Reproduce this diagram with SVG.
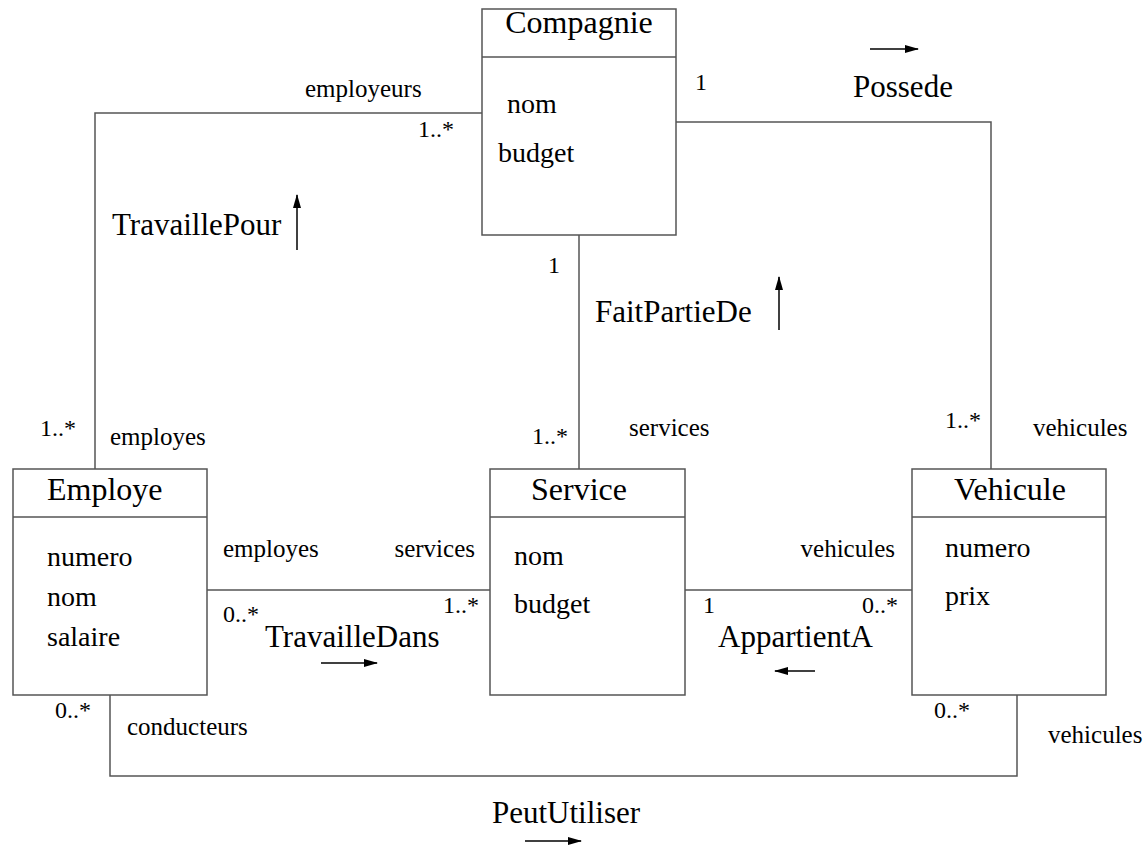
<svg xmlns="http://www.w3.org/2000/svg" width="1148" height="846" viewBox="0 0 1148 846">
<style>
text{font-family:"Liberation Serif","Times New Roman",serif;fill:#000}
.cls{font-size:32px}
.att{font-size:28px}
.role{font-size:25px}
.mul{font-size:24px}
.asn{font-size:31px}
.box{fill:#fff;stroke:#555;stroke-width:1.5}
.ln{fill:none;stroke:#555;stroke-width:1.5}
.dir{stroke:#000;stroke-width:1.5;fill:none}
</style>
<defs>
<marker id="ah" markerWidth="14" markerHeight="8" refX="13" refY="4" orient="auto" markerUnits="userSpaceOnUse">
<path d="M0,0 L14,4 L0,8 Z" fill="#000"/>
</marker>
</defs>
<rect width="1148" height="846" fill="#fff"/>
<g id="connectors">
<polyline class="ln" points="95,469 95,113 482,113"/>
<polyline class="ln" points="676,122 991,122 991,469"/>
<line class="ln" x1="579" y1="235" x2="579" y2="469"/>
<line class="ln" x1="207" y1="590" x2="490" y2="590"/>
<line class="ln" x1="685" y1="590" x2="912" y2="590"/>
<polyline class="ln" points="110,695 110,776 1017,776 1017,695"/>
<line class="dir" x1="297" y1="250" x2="297" y2="195" marker-end="url(#ah)"/>
<line class="dir" x1="779" y1="330" x2="779" y2="277" marker-end="url(#ah)"/>
<line class="dir" x1="870" y1="49" x2="918" y2="49" marker-end="url(#ah)"/>
<line class="dir" x1="321" y1="663" x2="377" y2="663" marker-end="url(#ah)"/>
<line class="dir" x1="815" y1="671" x2="775" y2="671" marker-end="url(#ah)"/>
<line class="dir" x1="525" y1="841" x2="581" y2="841" marker-end="url(#ah)"/>
<text class="role" x="305" y="97">employeurs</text>
<text class="mul" x="418" y="137">1..*</text>
<text class="mul" x="695" y="90">1</text>
<text class="asn" x="853" y="97">Possede</text>
<text class="asn" x="112" y="235">TravaillePour</text>
<text class="mul" x="548" y="273">1</text>
<text class="asn" x="595" y="322">FaitPartieDe</text>
<text class="mul" x="40" y="436">1..*</text>
<text class="role" x="110" y="445">employes</text>
<text class="mul" x="532" y="444">1..*</text>
<text class="role" x="629" y="436">services</text>
<text class="mul" x="945" y="428">1..*</text>
<text class="role" x="1033" y="436">vehicules</text>
<text class="role" x="223" y="557">employes</text>
<text class="role" x="475" y="557" text-anchor="end">services</text>
<text class="mul" x="223" y="622">0..*</text>
<text class="mul" x="479" y="613" text-anchor="end">1..*</text>
<text class="asn" x="265" y="647">TravailleDans</text>
<text class="role" x="895" y="557" text-anchor="end">vehicules</text>
<text class="mul" x="703" y="613">1</text>
<text class="mul" x="862" y="613">0..*</text>
<text class="asn" x="718" y="647">AppartientA</text>
<text class="mul" x="55" y="718">0..*</text>
<text class="role" x="127" y="735">conducteurs</text>
<text class="mul" x="934" y="718">0..*</text>
<text class="role" x="1048" y="743">vehicules</text>
<text class="asn" x="492" y="823">PeutUtiliser</text>
</g>
<g id="Compagnie">
<rect class="box" x="482" y="9" width="194" height="226"/>
<line class="ln" x1="482" y1="57" x2="676" y2="57"/>
<text class="cls" x="579" y="33" text-anchor="middle">Compagnie</text>
<text class="att" x="507" y="113">nom</text>
<text class="att" x="498" y="162">budget</text>
</g>
<g id="Employe">
<rect class="box" x="13" y="469" width="194" height="226"/>
<line class="ln" x1="13" y1="517" x2="207" y2="517"/>
<text class="cls" x="47" y="500">Employe</text>
<text class="att" x="47" y="566">numero</text>
<text class="att" x="47" y="606">nom</text>
<text class="att" x="47" y="646">salaire</text>
</g>
<g id="Service">
<rect class="box" x="490" y="469" width="195" height="226"/>
<line class="ln" x1="490" y1="517" x2="685" y2="517"/>
<text class="cls" x="531" y="500">Service</text>
<text class="att" x="514" y="565">nom</text>
<text class="att" x="514" y="613">budget</text>
</g>
<g id="Vehicule">
<rect class="box" x="912" y="469" width="194" height="226"/>
<line class="ln" x1="912" y1="517" x2="1106" y2="517"/>
<text class="cls" x="954" y="500">Vehicule</text>
<text class="att" x="945" y="557">numero</text>
<text class="att" x="945" y="605">prix</text>
</g>
</svg>
